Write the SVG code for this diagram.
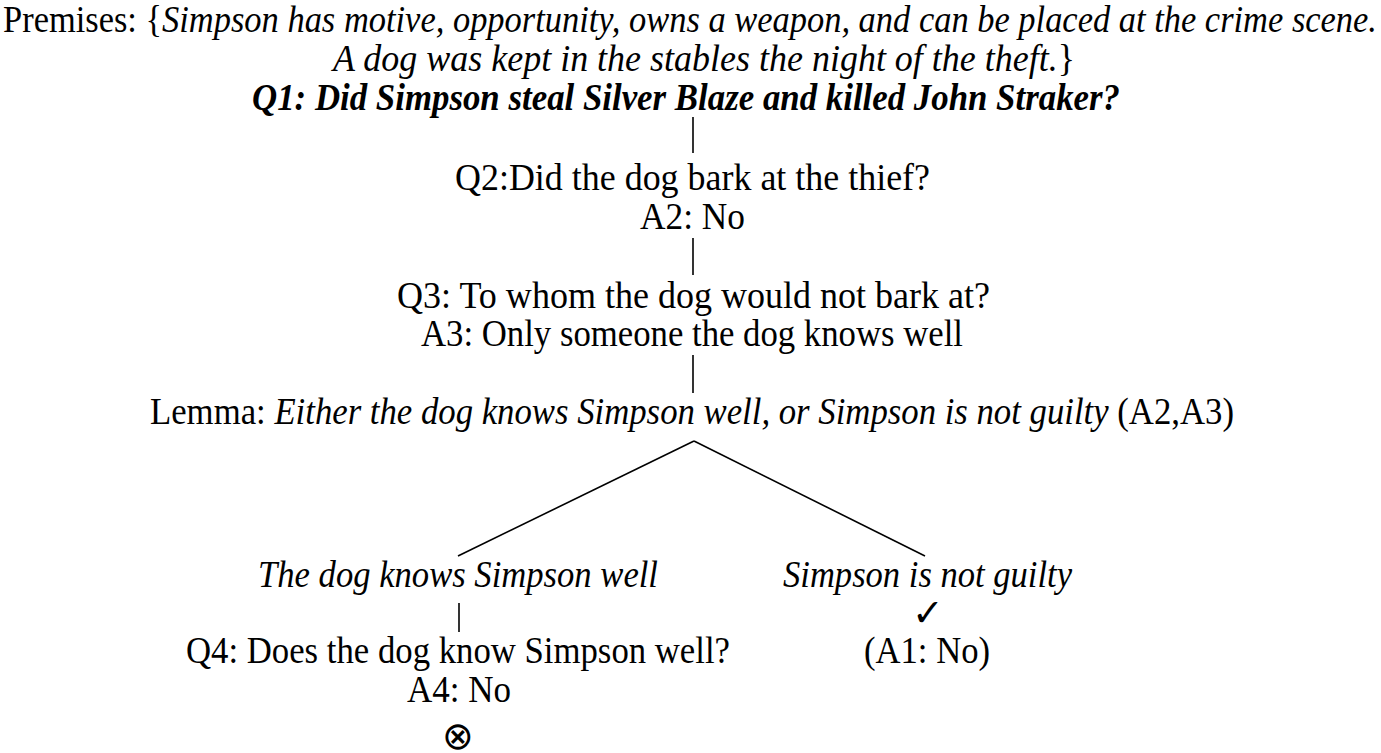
<svg xmlns="http://www.w3.org/2000/svg" width="1381" height="753" viewBox="0 0 1381 753">
<style>
text{font-family:"Liberation Serif","Times New Roman",serif;font-size:38px;fill:#000}
.it{font-style:italic}
.bi{font-style:italic;font-weight:bold}
.sym{font-family:"DejaVu Sans","DejaVu Serif",sans-serif}
line{stroke:#000;stroke-width:1.6}
</style>
<rect width="1381" height="753" fill="#fff"/>
<g id="premises">
<text x="3" y="32" textLength="1374" lengthAdjust="spacingAndGlyphs">Premises: {<tspan class="it">Simpson has motive, opportunity, owns a weapon, and can be placed at the crime scene.</tspan></text>
<text x="333" y="71" textLength="742" lengthAdjust="spacingAndGlyphs"><tspan class="it">A dog was kept in the stables the night of the theft.</tspan>}</text>
</g>
<g id="q1"><text class="bi" x="252" y="110" textLength="868" lengthAdjust="spacingAndGlyphs">Q1: Did Simpson steal Silver Blaze and killed John Straker?</text></g>
<g id="q2"><text x="455" y="190" textLength="475" lengthAdjust="spacingAndGlyphs">Q2:Did the dog bark at the thief?</text>
<text x="640" y="229" textLength="105" lengthAdjust="spacingAndGlyphs">A2: No</text></g>
<g id="q3"><text x="397" y="308" textLength="593" lengthAdjust="spacingAndGlyphs">Q3: To whom the dog would not bark at?</text>
<text x="421" y="346" textLength="542" lengthAdjust="spacingAndGlyphs">A3: Only someone the dog knows well</text></g>
<g id="lemma"><text x="150" y="424" textLength="1084" lengthAdjust="spacingAndGlyphs">Lemma: <tspan class="it">Either the dog knows Simpson well, or Simpson is not guilty</tspan> (A2,A3)</text></g>
<g id="left"><text class="it" x="258" y="587" textLength="400" lengthAdjust="spacingAndGlyphs">The dog knows Simpson well</text></g>
<g id="right"><text class="it" x="783" y="587" textLength="289" lengthAdjust="spacingAndGlyphs">Simpson is not guilty</text>
<text class="sym" x="928" y="626" font-size="24" text-anchor="middle">✓</text>
<text x="864" y="663" textLength="126" lengthAdjust="spacingAndGlyphs">(A1: No)</text></g>
<g id="q4"><text x="186" y="663" textLength="544" lengthAdjust="spacingAndGlyphs">Q4: Does the dog know Simpson well?</text>
<text x="407" y="702" textLength="104" lengthAdjust="spacingAndGlyphs">A4: No</text>
<text class="sym" x="458" y="749" font-size="46" text-anchor="middle">⊗</text></g>
<g id="connectors">
<line x1="693" y1="117" x2="693" y2="153"/>
<line x1="693" y1="238" x2="693" y2="275"/>
<line x1="693" y1="355" x2="693" y2="393"/>
<line x1="694" y1="441" x2="458" y2="556"/>
<line x1="694" y1="441" x2="925" y2="556"/>
<line x1="459" y1="603" x2="459" y2="632"/>
</g>
</svg>
